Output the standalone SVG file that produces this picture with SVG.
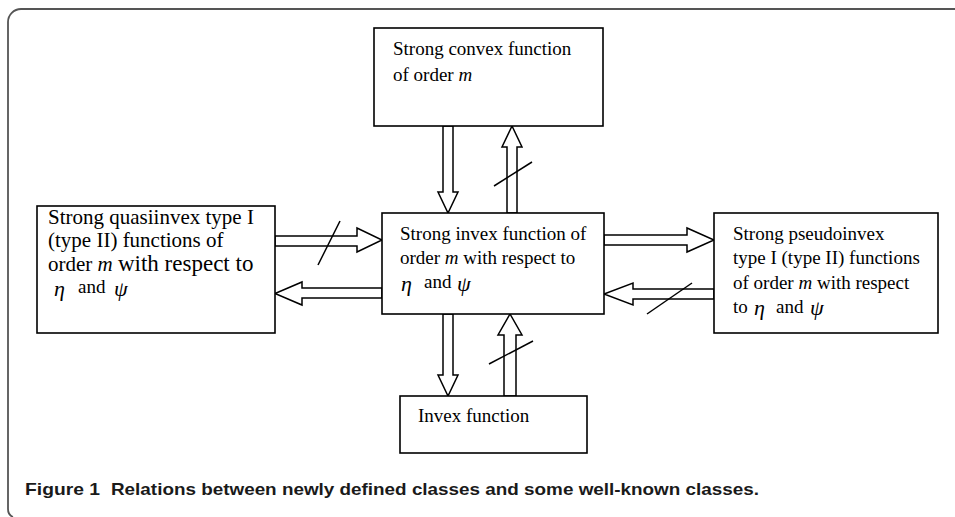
<svg xmlns="http://www.w3.org/2000/svg" width="955" height="517" viewBox="0 0 955 517">
<style>
.box{fill:#fff;stroke:#000;stroke-width:1.6}
.t{font-family:"Liberation Serif","Times New Roman",serif;font-size:19px;fill:#000}
.g{font-family:"Liberation Serif","Times New Roman",serif;font-style:italic;font-size:22px;fill:#000}
.i{font-style:italic}
.arr{fill:#fff;stroke:#000;stroke-width:1.5;stroke-linejoin:miter}
.sl{stroke:#000;stroke-width:1.5;fill:none}
.cap{font-family:"Liberation Sans",Arial,sans-serif;font-weight:bold;font-size:16.5px;fill:#1a1a1a}
</style>
<rect width="955" height="517" fill="#fff"/>
<path d="M13 517 Q8 515 8 509 L8 22 A13 13 0 0 1 21 9 L955 9" fill="none" stroke="#555" stroke-width="1.8"/>

<g id="connectors">
  <polygon class="arr" points="443,126 453,126 453,192 458,192 448,213 438,192 443,192"/>
  <polygon class="arr" points="507,213 517,213 517,147 522,147 512,126 502,147 507,147"/>
  <line class="sl" x1="494" y1="186" x2="532" y2="162"/>
  <polygon class="arr" points="275,236 357,236 357,228 382,240 357,252 357,246 275,246"/>
  <line class="sl" x1="318" y1="265" x2="340" y2="221"/>
  <polygon class="arr" points="382,288 302,288 302,282 275,293.5 302,305 302,298 382,298"/>
  <polygon class="arr" points="604,235 687,235 687,228 714,240 687,252 687,245 604,245"/>
  <polygon class="arr" points="714,289 633,289 633,283 604,294 633,305 633,299 714,299"/>
  <line class="sl" x1="647" y1="314" x2="692" y2="283"/>
  <polygon class="arr" points="443,314 453,314 453,375 458,375 448,396 438,375 443,375"/>
  <polygon class="arr" points="504,396 516,396 516,335 522,335 510,314 498,335 504,335"/>
  <line class="sl" x1="489" y1="364" x2="533" y2="341"/>
</g>

<g id="node-convex">
  <rect class="box" x="374" y="28" width="229" height="98"/>
  <text class="t" x="393" y="55">Strong convex function</text>
  <text class="t" x="393" y="81">of order <tspan class="i">m</tspan></text>
</g>

<g id="node-invex-m">
  <rect class="box" x="382" y="213" width="222" height="101"/>
  <text class="t" x="400" y="240">Strong invex function of</text>
  <text class="t" x="400" y="264">order <tspan class="i">m</tspan> with respect to</text>
  <text class="g" x="401" y="291">η</text>
  <text class="t" x="424" y="288">and</text>
  <text class="g" x="457" y="291">ψ</text>
</g>

<g id="node-quasiinvex">
  <rect class="box" x="37" y="206" width="238" height="127"/>
  <text class="t" x="48" y="224" style="font-size:21px">Strong quasiinvex type I</text>
  <text class="t" x="48" y="247" style="font-size:21px">(type II) functions of</text>
  <text class="t" x="48" y="271" style="font-size:21px">order <tspan class="i">m</tspan> <tspan style="font-size:23px">with respect to</tspan></text>
  <text class="g" x="54" y="296">η</text>
  <text class="t" x="78" y="293">and</text>
  <text class="g" x="114" y="296">ψ</text>
</g>

<g id="node-pseudoinvex">
  <rect class="box" x="714" y="213" width="224" height="120"/>
  <text class="t" x="733" y="240">Strong pseudoinvex</text>
  <text class="t" x="733" y="264">type I (type II) functions</text>
  <text class="t" x="733" y="289">of order <tspan class="i">m</tspan> with respect</text>
  <text class="t" x="733" y="313">to</text>
  <text class="g" x="754" y="315">η</text>
  <text class="t" x="776" y="313">and</text>
  <text class="g" x="810" y="315">ψ</text>
</g>

<g id="node-invex">
  <rect class="box" x="400" y="396" width="187" height="57"/>
  <text class="t" x="418" y="422">Invex function</text>
</g>

<text class="cap" y="495"><tspan x="25" textLength="75" lengthAdjust="spacingAndGlyphs">Figure 1</tspan><tspan x="111" textLength="648" lengthAdjust="spacingAndGlyphs">Relations between newly defined classes and some well-known classes.</tspan></text>
</svg>
